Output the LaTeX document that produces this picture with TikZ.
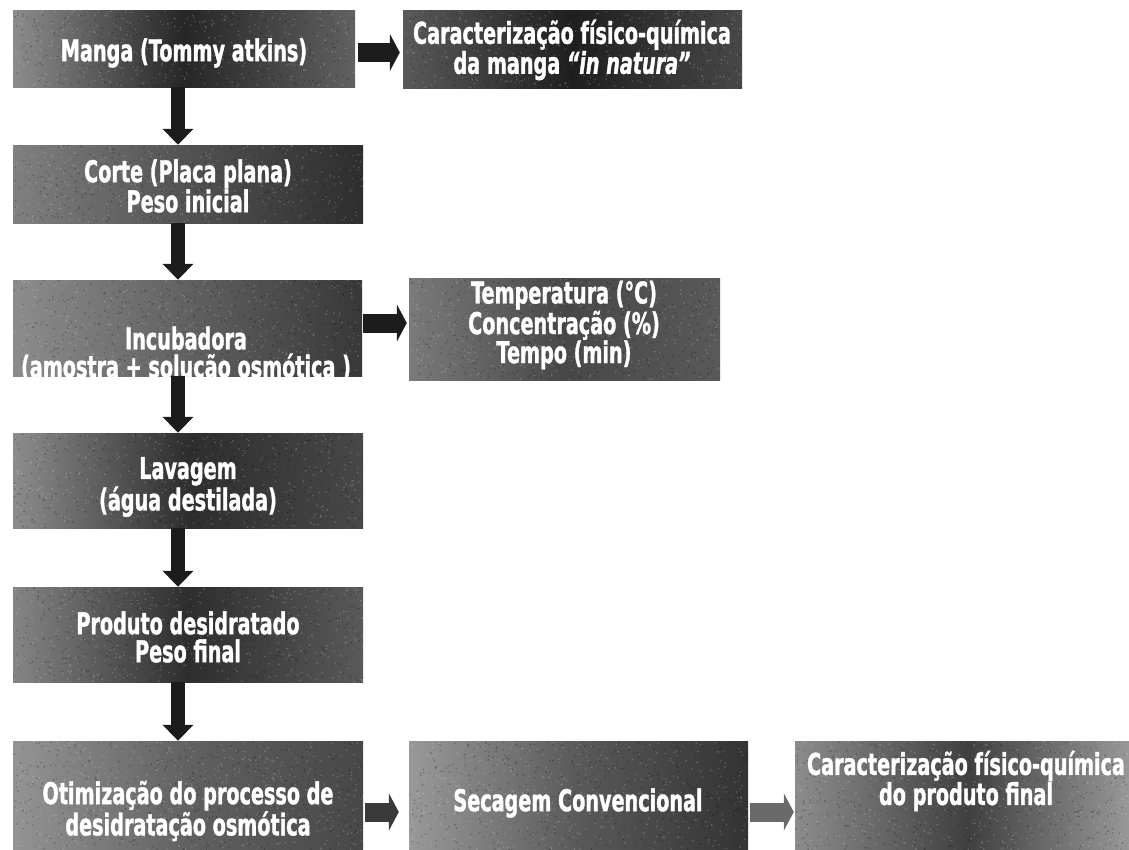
\documentclass[tikz,border=0pt]{standalone}
\usepackage{fontspec}
\setmainfont{DejaVu Sans}
\newfontfamily\boxfont[FakeStretch=0.64,FakeBold=1.2]{DejaVu Sans}
\usetikzlibrary{arrows.meta}
\definecolor{arrowdark}{HTML}{1C1C1C}
\definecolor{arrowmid}{HTML}{3A3A3A}
\definecolor{arrowlight}{HTML}{6A6A6A}
\begin{document}
\begin{tikzpicture}[x=1pt,y=-1pt,
  box/.style={rectangle, draw=none, inner sep=0pt,
    path picture={
      \fill[white, opacity=0.2] \foreach \i in {1,...,650}{([shift={(rnd*352,-rnd*146)}]path picture bounding box.south west) rectangle ++(1.3,-1.3)};
      \fill[black, opacity=0.25] \foreach \i in {1,...,650}{([shift={(rnd*352,-rnd*146)}]path picture bounding box.south west) rectangle ++(1.3,-1.3)};
      }},
  txt/.style={text=white, font=\boxfont\bfseries\fontsize{30}{28}\selectfont, align=center, inner sep=0pt},
  varrow/.style={line width=14pt, draw=arrowdark, -{Triangle[width=30pt,length=16pt]}},
  harrow/.style={line width=19pt, -{Triangle[width=37pt,length=10pt]}}
]
\pgfmathsetseed{7}
\useasboundingbox (0,0) rectangle (1129,849);
\clip (0,0) rectangle (1129,849);

% boxes
\node[box, minimum width=342pt, minimum height=77pt, left color=black!45, right color=black!62, middle color=black!85] (b1) at (184,48.5) {};
\node[box, minimum width=339pt, minimum height=78pt, left color=black!65, right color=black!72, middle color=black!88] (b2) at (572.5,49) {};
\node[box, minimum width=350pt, minimum height=78pt, left color=black!50, right color=black!82, middle color=black!68] (b3) at (188,184) {};
\node[box, minimum width=349pt, minimum height=96pt, left color=black!45, right color=black!78, middle color=black!62] (b4) at (187.5,328) {};
\node[box, minimum width=311pt, minimum height=102pt, left color=black!52, right color=black!65, middle color=black!72] (b5) at (564.5,329) {};
\node[box, minimum width=350pt, minimum height=95pt, left color=black!45, right color=black!72, middle color=black!82] (b6) at (188,480.5) {};
\node[box, minimum width=350pt, minimum height=95pt, left color=black!48, right color=black!65, middle color=black!82] (b7) at (188,634.5) {};
\node[box, minimum width=350pt, minimum height=142pt, left color=black!42, right color=black!72, middle color=black!62] (b8) at (188,812) {};
\node[box, minimum width=339pt, minimum height=142pt, left color=black!40, right color=black!80, middle color=black!65] (b9) at (578.5,812) {};
\node[box, minimum width=346pt, minimum height=142pt, left color=black!45, right color=black!38, middle color=black!75] (b10) at (968,812) {};

% texts
\node[txt] (t1) at (184,53) {Manga (Tommy atkins)};
\node[txt] (t2) at (572,50) {Caracterização físico-química\\da manga \textit{“in natura”}};
\node[txt] (t3) at (188,186) {Corte (Placa plana)\\Peso inicial};
\node[txt] (t4) at (186,355) {Incubadora\\(amostra + solução osmótica )};
\node[txt, font=\boxfont\bfseries\fontsize{30}{29}\selectfont] (t5) at (564,325) {Temperatura (°C)\\Concentração (\%)\\Tempo (min)};
\node[txt] (t6) at (188,487) {Lavagem\\(água destilada)};
\node[txt] (t7) at (188,637) {Produto desidratado\\Peso final};
\node[txt] (t8) at (188,811) {Otimização do processo de\\desidratação osmótica};
\node[txt] (t9) at (578,803) {Secagem Convencional};
\node[txt] (t10) at (966,781) {Caracterização físico-química\\do produto final};

% connectors
\coordinate (col) at (178,0);
\draw[varrow] (b1.south -| col) -- (b3.north -| col);
\draw[varrow] (b3.south -| col) -- (b4.north -| col);
\draw[varrow] (b4.south -| col) -- (b6.north -| col);
\draw[varrow] (b6.south -| col) -- (b7.north -| col);
\draw[varrow] (b7.south -| col) -- (b8.north -| col);

\draw[harrow, draw=arrowdark, shorten <=3pt, shorten >=3pt] ([yshift=-4pt]b1.east) -- ([yshift=-4pt]b1.east -| b2.west);
\draw[harrow, draw=arrowdark, shorten <=1pt, shorten >=2pt] ([yshift=5pt]b4.east) -- ([yshift=5pt]b4.east -| b5.west);
\draw[harrow, draw=arrowmid, shorten <=2pt, shorten >=10pt] (b8.east) -- (b9.west);
\draw[harrow, draw=arrowlight, shorten <=2pt, shorten >=1pt] (b9.east) -- (b10.west);
\end{tikzpicture}
\end{document}
